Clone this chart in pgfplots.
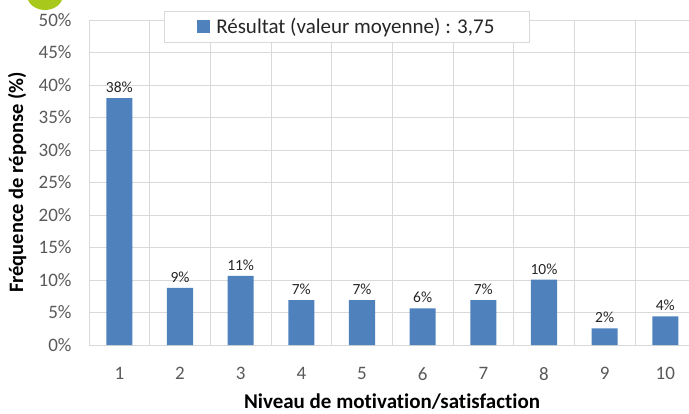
\documentclass[border=0pt]{standalone}
\usepackage{pgfplots}
\pgfplotsset{compat=1.18}
\usepackage{fontspec}
\setmainfont{Carlito}[Ligatures=NoCommon]
\definecolor{barblue}{HTML}{4F81BD}
\definecolor{gridgray}{HTML}{D9D9D9}
\definecolor{ticktext}{HTML}{595959}
\definecolor{lime}{HTML}{A8C81C}

\begin{document}
\begin{tikzpicture}[x=1pt,y=1pt]
\useasboundingbox (0,0) rectangle (689,413);
\begin{scope}
\clip (0,0) rectangle (689,413);
\fill[lime] (45,418) ellipse (18 and 15);
\end{scope}
\begin{axis}[
  at={(89pt,68pt)}, anchor=south west,
  width=600pt, height=325pt, scale only axis,
  xmin=0.5, xmax=10.39, ymin=0, ymax=50,
  ybar, bar width=0.43,
  xtick={1,...,10},
  minor xtick={0.5,1.5,...,9.5},
  ytick={0,5,...,50},
  yticklabel={\pgfmathprintnumber{\tick}\%},
  xminorgrids, ymajorgrids,
  grid style={gridgray, line width=0.8pt},
  minor grid style={gridgray, line width=0.8pt},
  axis line style={draw=none},
  major tick length=0pt, minor tick length=0pt,
  tick label style={font=\fontsize{19}{23}\selectfont, text=ticktext},
  /pgf/number format/assume math mode=true,
  xticklabel style={yshift=-19pt},
  yticklabel style={xshift=-14pt},
  xlabel={Niveau de motivation/satisfaction},
  ylabel={Fréquence de réponse (\%)},
  label style={font=\fontsize{20.5}{24}\selectfont\bfseries},
  xlabel style={at={(axis description cs:0.505,0)}, anchor=north, yshift=-45pt,
    font=\fontsize{21}{25}\selectfont\bfseries},
  ylabel style={at={(axis description cs:0,0.5)}, anchor=south, yshift=59pt},
  nodes near coords,
  point meta=explicit symbolic,
  nodes near coords style={font=\fontsize{15.5}{18}\selectfont, text=black!85, yshift=2pt},
  legend style={at={(axis cs:4.75,49.0)}, anchor=center, draw=gridgray, line width=0.8pt,
    fill=white, font=\fontsize{21}{25}\selectfont, text=black!85,
    inner xsep=33pt, inner ysep=5pt},
  legend image code/.code={\fill[barblue] (0pt,-6.5pt) rectangle (13pt,6.5pt);},
  clip=false,
]
\addplot[fill=barblue, draw=none] coordinates {
  (1,38.0) [38\%]
  (2,8.8) [9\%]
  (3,10.65) [11\%]
  (4,6.9) [7\%]
  (5,6.9) [7\%]
  (6,5.65) [6\%]
  (7,6.9) [7\%]
  (8,10.05) [10\%]
  (9,2.55) [2\%]
  (10,4.4) [4\%]
};
\addlegendentry{\hspace{4pt}Résultat (valeur moyenne) : 3,75}
\end{axis}
\end{tikzpicture}
\end{document}
